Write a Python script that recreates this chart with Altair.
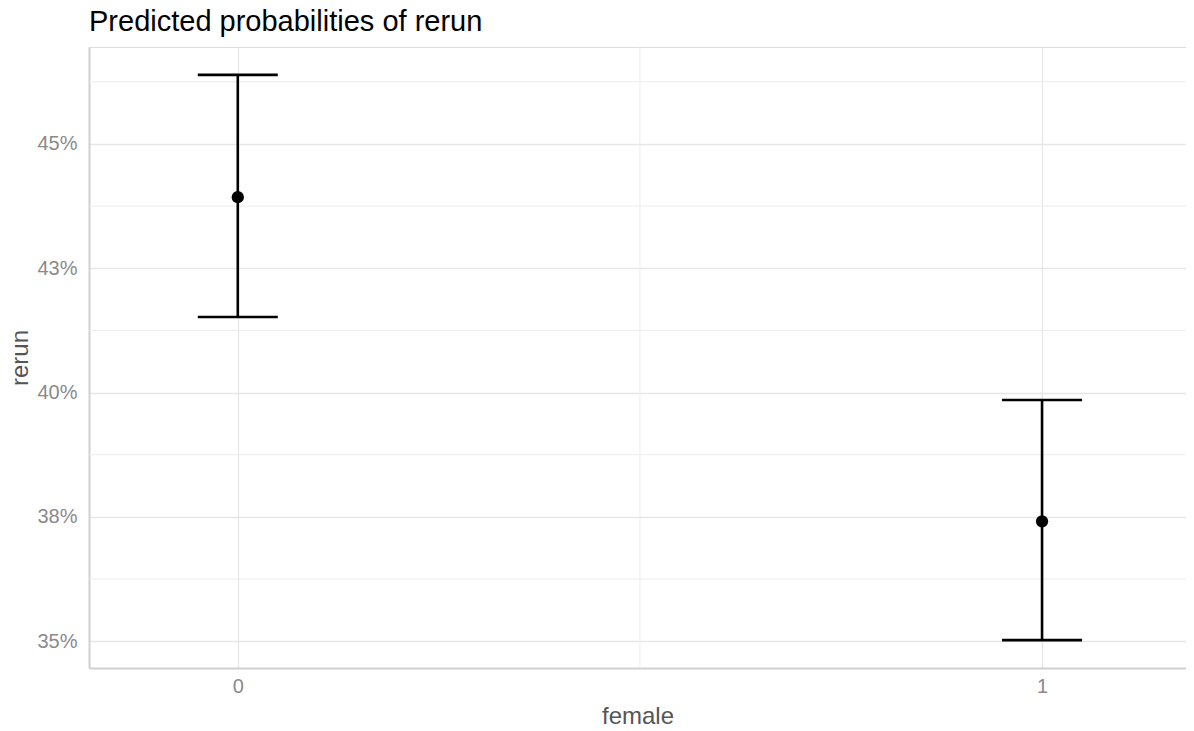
import altair as alt
import pandas as pd

# Data
female = [0, 1]
predicted = [0.4393, 0.3741]
conf_low = [0.4152, 0.3502]
conf_high = [0.4639, 0.3985]

y_ticks = [0.35, 0.375, 0.40, 0.425, 0.45]
y_labels = ["35%", "38%", "40%", "43%", "45%"]
y_minor = [0.3625, 0.3875, 0.4125, 0.4375, 0.4625]
x_ticks = [0, 1]
x_minor = [0.5]

df = pd.DataFrame({"female": female, "predicted": predicted,
                   "conf_low": conf_low, "conf_high": conf_high})
df_ymin = pd.DataFrame({"y": y_minor})
df_xmin = pd.DataFrame({"x": x_minor})

xdom = [-0.185, 1.179]
ydom = [0.3446, 0.4695]

label_js = "[" + ",".join("'%s'" % s for s in y_labels) + "]"
label_expr = f"{label_js}[round((datum.value - {y_ticks[0]}) / {y_ticks[1]-y_ticks[0]})]"

FONT = "Liberation Sans"

xscale = alt.Scale(domain=xdom, nice=False, zero=False)
yscale = alt.Scale(domain=ydom, nice=False, zero=False)

x_axis = alt.Axis(values=x_ticks, format="d", title="female",
                  grid=True, gridColor="#e6e6e6", gridWidth=1.3,
                  ticks=False, labelPadding=8, labelFontSize=20,
                  labelColor="#8a8a8a", titleFontSize=24,
                  titleColor="#555555", titlePadding=8,
                  titleFontWeight="normal",
                  domainColor="#d0d0d0", domainWidth=2,
                  labelFont=FONT, titleFont=FONT)
y_axis = alt.Axis(values=y_ticks, labelExpr=label_expr, title="rerun",
                  grid=True, gridColor="#e6e6e6", gridWidth=1.3,
                  ticks=False, labelPadding=12, labelFontSize=20,
                  labelColor="#8a8a8a", titleFontSize=24,
                  titleColor="#555555", titlePadding=4,
                  titleFontWeight="normal",
                  domainColor="#d0d0d0", domainWidth=2,
                  labelFont=FONT, titleFont=FONT)

minor_y = alt.Chart(df_ymin).mark_rule(color="#ececec", strokeWidth=1).encode(
    y=alt.Y("y:Q", scale=yscale, axis=y_axis))
minor_x = alt.Chart(df_xmin).mark_rule(color="#ececec", strokeWidth=1).encode(
    x=alt.X("x:Q", scale=xscale, axis=x_axis))

base = alt.Chart(df)
vline = base.mark_rule(color="black", strokeWidth=2.6).encode(
    x=alt.X("female:Q", scale=xscale, axis=x_axis),
    y=alt.Y("conf_low:Q", scale=yscale, axis=y_axis), y2="conf_high:Q")
cap_hi = base.mark_tick(color="black", orient="horizontal", size=80,
                        thickness=2.6, opacity=1).encode(
    x=alt.X("female:Q", scale=xscale, axis=x_axis),
    y=alt.Y("conf_high:Q", scale=yscale, axis=y_axis))
cap_lo = base.mark_tick(color="black", orient="horizontal", size=80,
                        thickness=2.6, opacity=1).encode(
    x=alt.X("female:Q", scale=xscale, axis=x_axis),
    y=alt.Y("conf_low:Q", scale=yscale, axis=y_axis))
pts = base.mark_circle(color="black", size=150, opacity=1).encode(
    x=alt.X("female:Q", scale=xscale, axis=x_axis),
    y=alt.Y("predicted:Q", scale=yscale, axis=y_axis))

chart = alt.layer(minor_y, minor_x, vline, cap_hi, cap_lo, pts).properties(
    width=1097, height=621,
    padding={"left": 81, "top": 39, "right": 0, "bottom": 61},
    autosize=alt.AutoSizeParams(type="none"),
    title=alt.TitleParams("Predicted probabilities of rerun", anchor="start",
                          frame="group", fontSize=29, font=FONT,
                          fontWeight="normal", color="black", offset=10),
).configure_view(strokeWidth=0).configure(background="white")

chart.save("out.html", embed_options={"renderer": "svg", "actions": False})
